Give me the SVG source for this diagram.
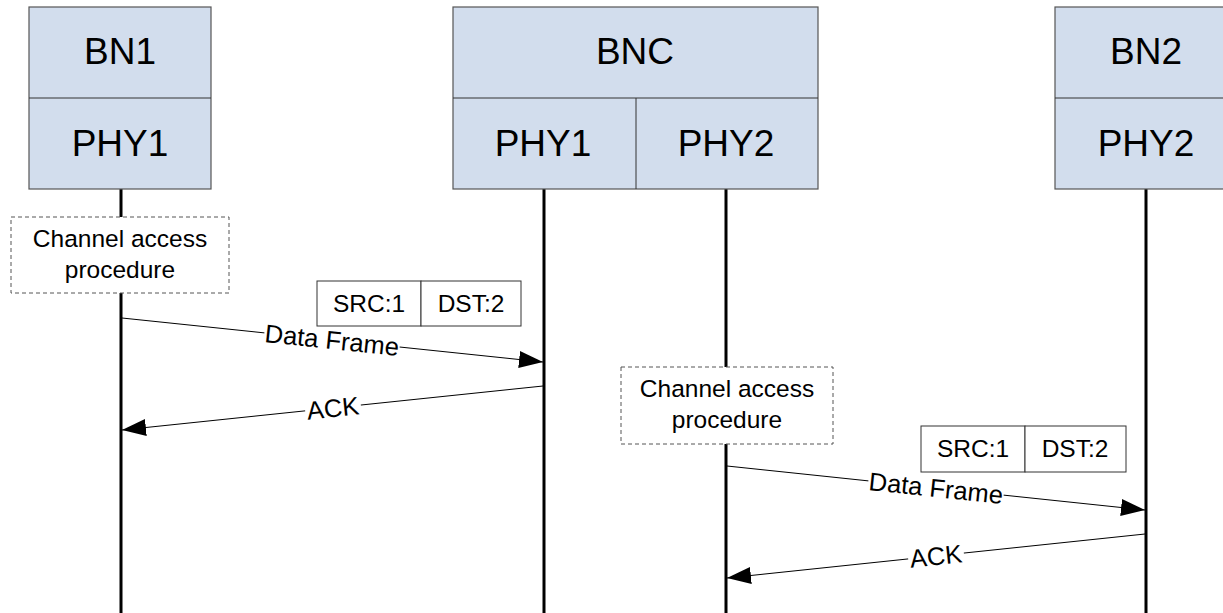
<svg xmlns="http://www.w3.org/2000/svg" width="1223" height="613" viewBox="0 0 1223 613">
  <style>
    .box { fill: #D2DDED; stroke: #555; stroke-width: 1.2; }
    .sep { stroke: #333; stroke-width: 1; }
    .big { font-family: "Liberation Sans", Arial, sans-serif; font-size: 37px; fill: #000; text-anchor: middle; }
    .txt { font-family: "Liberation Sans", Arial, sans-serif; font-size: 24.5px; fill: #000; text-anchor: middle; }
    .lbl { font-family: "Liberation Sans", Arial, sans-serif; font-size: 25.5px; fill: #000; text-anchor: middle; }
    .life { stroke: #000; stroke-width: 3; }
    .dash { fill: #fff; stroke: #555; stroke-width: 1; stroke-dasharray: 4 3; }
    .hdr { fill: #fff; stroke: #333; stroke-width: 1; }
    .msg { stroke: #000; stroke-width: 1; fill: none; marker-end: url(#arrow); }
    .lblbg { fill: #fff; }
  </style>
  <defs>
    <marker id="arrow" markerUnits="userSpaceOnUse" markerWidth="24" markerHeight="17" refX="24" refY="8.5" orient="auto">
      <path d="M0,0 L24,8.5 L0,17 z" fill="#000"/>
    </marker>
  </defs>
  <rect width="1223" height="613" fill="#fff"/>

  <!-- lifelines -->
  <g id="lifelines">
    <line class="life" x1="121" y1="189" x2="121" y2="613"/>
    <line class="life" x1="544" y1="189" x2="544" y2="613"/>
    <line class="life" x1="726" y1="189" x2="726" y2="613"/>
    <line class="life" x1="1146" y1="189" x2="1146" y2="613"/>
  </g>

  <!-- node BN1 -->
  <g id="bn1">
    <rect class="box" x="29" y="7" width="182" height="182"/>
    <line class="sep" x1="29" y1="98" x2="211" y2="98"/>
    <text class="big" x="120" y="64">BN1</text>
    <text class="big" x="120" y="156">PHY1</text>
  </g>

  <!-- node BNC -->
  <g id="bnc">
    <rect class="box" x="453" y="7" width="365" height="182"/>
    <line class="sep" x1="453" y1="98" x2="818" y2="98"/>
    <line class="sep" x1="636" y1="98" x2="636" y2="189"/>
    <text class="big" x="635" y="64">BNC</text>
    <text class="big" x="543" y="156">PHY1</text>
    <text class="big" x="726" y="156">PHY2</text>
  </g>

  <!-- node BN2 -->
  <g id="bn2">
    <rect class="box" x="1055" y="7" width="182" height="182"/>
    <line class="sep" x1="1055" y1="98" x2="1237" y2="98"/>
    <text class="big" x="1146" y="64">BN2</text>
    <text class="big" x="1146" y="156">PHY2</text>
  </g>

  <!-- channel access procedures -->
  <g id="cap1">
    <rect class="dash" x="11" y="217" width="218" height="76"/>
    <text class="txt" x="120" y="247">Channel access</text>
    <text class="txt" x="120" y="278">procedure</text>
  </g>
  <g id="cap2">
    <rect class="dash" x="621" y="367" width="212" height="77"/>
    <text class="txt" x="727" y="397">Channel access</text>
    <text class="txt" x="727" y="428">procedure</text>
  </g>

  <!-- frame headers -->
  <g id="hdr1">
    <rect class="hdr" x="317" y="281" width="104" height="45"/>
    <rect class="hdr" x="421" y="281" width="100" height="45"/>
    <text class="txt" x="369" y="312">SRC:1</text>
    <text class="txt" x="471" y="312">DST:2</text>
  </g>
  <g id="hdr2">
    <rect class="hdr" x="921" y="426" width="104" height="46"/>
    <rect class="hdr" x="1025" y="426" width="101" height="46"/>
    <text class="txt" x="973" y="457">SRC:1</text>
    <text class="txt" x="1075" y="457">DST:2</text>
  </g>

  <!-- messages -->
  <g id="connectors">
    <line class="msg" x1="122" y1="318" x2="543" y2="362"/>
    <g transform="translate(332,340) rotate(5.97)">
      <rect class="lblbg" x="-68" y="-11" width="136" height="22"/>
      <text class="lbl" x="0" y="9">Data Frame</text>
    </g>

    <line class="msg" x1="543" y1="386" x2="122" y2="430"/>
    <g transform="translate(333,408) rotate(-5.94)">
      <rect class="lblbg" x="-28" y="-11" width="56" height="22"/>
      <text class="lbl" x="0" y="9">ACK</text>
    </g>

    <line class="msg" x1="727" y1="466" x2="1145" y2="510"/>
    <g transform="translate(936,488) rotate(6.0)">
      <rect class="lblbg" x="-68" y="-11" width="136" height="22"/>
      <text class="lbl" x="0" y="9">Data Frame</text>
    </g>

    <line class="msg" x1="1145" y1="534" x2="727" y2="578"/>
    <g transform="translate(936,556) rotate(-6.0)">
      <rect class="lblbg" x="-28" y="-11" width="56" height="22"/>
      <text class="lbl" x="0" y="9">ACK</text>
    </g>
  </g>
</svg>
